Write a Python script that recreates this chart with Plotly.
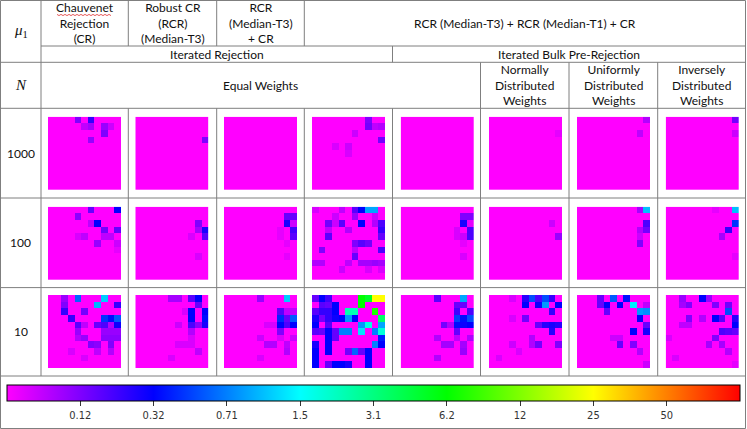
import plotly.graph_objects as go

W, H = 747, 429

# colour index scale: 0 = magenta ... 10 = red, ticks at 1..9
tick_vals = [1, 2, 3, 4, 5, 6, 7, 8, 9]
tick_text = ["0.12", "0.32", "0.71", "1.5", "3.1", "6.2", "12", "25", "50"]

row_labels = ["1000", "100", "10"]

# non-background cells of each 11x11 map: (row, col, value)
n1000_cr = [(0, 4, 1.0), (0, 6, 1.6), (1, 5, 0.5), (1, 6, 0.7), (1, 8, 0.8), (1, 9, 0.4),
            (2, 8, 1.0), (3, 6, 0.8)]
n1000_rcr = [(3, 10, 1.0)]
n1000_rcr_cr = []
n1000_full = [(0, 8, 1.0), (1, 8, 1.1), (1, 9, 0.5), (1, 10, 0.6), (2, 6, 0.4), (3, 10, 1.1),
              (4, 3, 0.3), (4, 5, 0.4), (5, 5, 0.3)]
n1000_bulk_eq = []
n1000_bulk_norm = [(2, 10, 0.2)]
n1000_bulk_unif = [(0, 10, 0.6), (2, 9, 0.5)]
n1000_bulk_inv = [(0, 10, 1.1), (2, 10, 0.4)]

n100_cr = [(0, 6, 1.2), (0, 10, 2.0), (1, 4, 0.9), (2, 6, 0.5), (2, 7, 2.0), (3, 8, 1.1),
           (3, 10, 1.2), (4, 4, 0.3), (4, 5, 0.5), (4, 8, 0.5), (4, 9, 0.5), (5, 7, 0.8),
           (5, 10, 0.4), (6, 10, 0.2)]
n100_rcr = [(2, 9, 1.0), (3, 9, 0.7), (3, 10, 1.8), (4, 8, 0.3), (4, 10, 1.3), (7, 9, 0.3)]
n100_rcr_cr = [(1, 9, 1.2), (1, 10, 1.2), (2, 9, 1.8), (2, 10, 0.4), (3, 8, 0.2), (3, 10, 1.5),
               (4, 8, 0.2), (4, 10, 1.3), (5, 9, 0.2), (7, 9, 0.2)]
n100_full = [(0, 0, 0.3), (0, 4, 0.5), (0, 6, 1.3), (0, 7, 2.0), (0, 8, 3.3), (0, 9, 3.3),
             (1, 3, 0.4), (1, 6, 0.8), (1, 9, 0.4), (2, 2, 1.1), (2, 3, 0.4), (2, 4, 1.3),
             (2, 7, 2.0), (2, 9, 0.6), (2, 10, 1.4), (3, 2, 0.5), (3, 5, 0.6), (3, 10, 1.6),
             (4, 2, 1.3), (4, 10, 1.2), (5, 6, 1.0), (5, 7, 1.3), (5, 8, 1.1), (6, 1, 1.0),
             (6, 6, 0.5), (6, 10, 1.4), (7, 6, 1.2), (8, 0, 0.6), (8, 1, 0.6), (8, 5, 0.5),
             (8, 7, 0.7), (8, 8, 0.7), (8, 9, 0.8), (8, 10, 0.7), (9, 4, 0.4), (9, 8, 0.3),
             (9, 10, 0.3)]
n100_bulk_eq = [(1, 9, 1.0), (1, 10, 1.0), (2, 9, 1.8), (2, 10, 0.2), (3, 8, 0.3), (3, 10, 1.4),
                (4, 8, 0.3), (4, 9, 0.4), (4, 10, 1.4), (5, 9, 0.2), (7, 9, 0.3)]
n100_bulk_norm = [(2, 9, 0.4), (4, 10, 0.8)]
n100_bulk_unif = [(0, 9, 0.7), (0, 10, 3.5), (2, 10, 1.4), (3, 9, 0.6), (3, 10, 1.1), (4, 9, 0.4),
                  (5, 9, 1.0)]
n100_bulk_inv = [(0, 7, 0.2), (0, 10, 3.5), (2, 10, 2.4), (3, 9, 1.6), (4, 8, 0.7), (7, 10, 0.2)]

n10_cr = [(0, 2, 0.8), (0, 4, 2.8), (0, 8, 3.6), (1, 2, 1.0), (1, 7, 3.4), (1, 10, 1.6),
          (2, 2, 1.6), (2, 5, 1.1), (3, 3, 1.6), (3, 8, 2.4), (3, 9, 2.1), (3, 10, 2.7),
          (4, 4, 1.3), (4, 5, 0.5), (4, 7, 1.2), (4, 8, 1.4), (4, 9, 0.6), (4, 10, 1.9),
          (5, 4, 0.8), (5, 8, 0.8), (5, 9, 0.8), (5, 10, 0.8), (6, 4, 0.6), (6, 5, 0.8),
          (6, 8, 0.9), (6, 9, 0.9), (6, 10, 0.9), (7, 6, 1.0), (7, 7, 0.9), (7, 9, 1.0),
          (8, 3, 0.3), (8, 7, 0.5), (8, 9, 0.6), (9, 5, 0.3)]
n10_rcr = [(0, 5, 0.7), (0, 6, 0.7), (0, 8, 1.3), (0, 9, 2.0), (1, 9, 1.2), (2, 7, 0.3),
           (2, 8, 2.0), (2, 10, 2.0), (3, 8, 2.0), (3, 10, 2.1), (4, 6, 0.4), (4, 8, 1.4),
           (4, 9, 0.9), (4, 10, 1.8), (5, 8, 0.6), (6, 8, 0.3), (7, 6, 0.3), (7, 7, 0.3),
           (7, 8, 0.3), (8, 9, 0.5), (9, 5, 0.3)]
n10_rcr_cr = [(0, 5, 0.8), (0, 9, 3.6), (2, 8, 1.3), (2, 9, 0.5), (2, 10, 0.5), (3, 8, 2.3),
              (3, 9, 1.2), (3, 10, 2.7), (4, 6, 0.3), (4, 7, 0.3), (4, 8, 2.0), (4, 9, 1.4),
              (4, 10, 2.0), (5, 8, 1.0), (6, 5, 0.4), (6, 8, 0.3), (6, 10, 0.4), (7, 6, 0.6),
              (7, 7, 0.6), (7, 9, 0.5), (8, 9, 0.6), (9, 5, 0.3)]
n10_full = [(0, 0, 1.2), (0, 1, 2.0), (0, 2, 1.5), (0, 7, 6.0), (0, 8, 5.7), (0, 9, 8.0),
            (0, 10, 8.0), (1, 1, 1.3), (1, 2, 1.2), (1, 3, 2.0), (1, 7, 6.0), (2, 0, 1.3),
            (2, 1, 1.6), (2, 2, 1.6), (2, 3, 2.0), (2, 5, 4.6), (2, 6, 4.6), (2, 9, 6.2),
            (3, 0, 1.8), (3, 1, 1.1), (3, 2, 1.6), (3, 3, 1.9), (3, 4, 2.0), (3, 5, 3.2),
            (3, 6, 2.0), (3, 10, 5.2), (4, 0, 2.0), (4, 2, 1.3), (4, 7, 3.2), (4, 8, 4.2),
            (4, 10, 3.3), (5, 0, 1.3), (5, 1, 1.2), (5, 2, 2.0), (5, 3, 1.2), (5, 4, 3.0),
            (5, 5, 3.0), (5, 7, 3.8), (5, 9, 3.0), (5, 10, 4.3), (6, 2, 2.0), (6, 3, 1.2),
            (6, 10, 2.2), (7, 0, 1.8), (7, 2, 2.0), (7, 9, 3.0), (7, 10, 2.0), (8, 0, 2.0),
            (8, 2, 2.0), (8, 5, 1.1), (8, 6, 2.8), (8, 7, 1.2), (8, 8, 2.0), (9, 0, 2.0),
            (9, 8, 2.0), (10, 0, 2.0), (10, 2, 1.2), (10, 3, 2.0), (10, 4, 2.0), (10, 5, 1.8),
            (10, 8, 2.0)]
n10_bulk_eq = [(0, 5, 1.3), (0, 9, 3.3), (1, 8, 1.2), (1, 9, 1.2), (2, 8, 1.5), (2, 10, 1.4),
               (3, 8, 2.5), (3, 9, 2.1), (3, 10, 2.6), (4, 6, 1.1), (4, 7, 0.6), (4, 8, 2.1),
               (4, 9, 1.9), (4, 10, 2.0), (5, 8, 1.2), (6, 5, 0.6), (6, 8, 0.5), (6, 10, 0.6),
               (7, 6, 0.7), (7, 7, 0.7), (7, 9, 0.7), (8, 9, 0.8), (9, 5, 0.6)]
n10_bulk_norm = [(0, 3, 0.3), (0, 5, 1.7), (0, 6, 2.6), (0, 7, 1.4), (0, 8, 2.6), (0, 9, 1.6),
                 (1, 5, 2.0), (1, 7, 1.9), (1, 8, 3.2), (1, 10, 2.0), (2, 9, 1.6), (3, 3, 0.3),
                 (3, 5, 1.1), (4, 7, 1.2), (4, 8, 1.7), (4, 9, 1.8), (4, 10, 1.7), (5, 9, 1.7),
                 (6, 6, 0.6), (7, 3, 0.4), (7, 6, 0.6), (7, 7, 1.1), (7, 10, 1.0), (8, 4, 0.3),
                 (9, 1, 0.3)]
n10_bulk_unif = [(0, 3, 1.2), (0, 5, 2.7), (0, 7, 2.1), (1, 3, 1.2), (1, 4, 2.0), (1, 6, 2.0),
                 (1, 8, 3.9), (1, 10, 0.5), (2, 4, 1.2), (2, 9, 3.2), (2, 10, 3.1), (3, 9, 2.0),
                 (4, 10, 1.2), (5, 8, 2.0), (5, 10, 1.8), (6, 5, 0.4), (6, 6, 0.4), (7, 6, 1.2),
                 (7, 8, 1.0), (8, 9, 0.6), (10, 10, 0.4)]
n10_bulk_inv = [(0, 2, 0.8), (0, 5, 2.0), (0, 6, 0.8), (1, 2, 0.7), (1, 3, 1.0), (1, 7, 1.0),
                (1, 9, 1.1), (2, 9, 2.6), (3, 3, 1.0), (3, 5, 0.6), (3, 7, 2.0), (3, 8, 1.3),
                (3, 10, 1.7), (4, 2, 0.5), (4, 3, 0.5), (4, 10, 2.0), (5, 8, 1.4), (5, 9, 1.3),
                (5, 10, 1.2), (6, 0, 0.3), (6, 7, 1.0), (7, 6, 0.7), (7, 8, 0.7), (8, 9, 0.6),
                (9, 1, 0.3), (10, 10, 0.2)]

panels = [
    [n1000_cr, n1000_rcr, n1000_rcr_cr, n1000_full, n1000_bulk_eq, n1000_bulk_norm, n1000_bulk_unif, n1000_bulk_inv],
    [n100_cr, n100_rcr, n100_rcr_cr, n100_full, n100_bulk_eq, n100_bulk_norm, n100_bulk_unif, n100_bulk_inv],
    [n10_cr, n10_rcr, n10_rcr_cr, n10_full, n10_bulk_eq, n10_bulk_norm, n10_bulk_unif, n10_bulk_inv],
]

GRID = 11


def fx(x):
    return x / W


def fy(y):
    return 1 - y / H


def to_grid(cells):
    z = [[0.0] * GRID for _ in range(GRID)]
    for r, c, v in cells:
        z[r][c] = v
    return z


# table geometry (pixels)
col_x = [0.5, 41, 128.3, 216.7, 304.3, 392.5, 480.5, 569, 657.7, 745.5]
row_y = [108.3, 198, 287.6, 376]
map_x0 = [48, 135.3, 224, 312, 400.7, 489, 577, 665.7]
map_y0 = [116.7, 206.7, 295]
map_size = 73.3

fig = go.Figure()
layout_axes = {}
k = 0
for i in range(3):
    for j in range(8):
        k += 1
        fig.add_trace(go.Heatmap(
            z=to_grid(panels[i][j]),
            coloraxis="coloraxis",
            xaxis="x" if k == 1 else f"x{k}",
            yaxis="y" if k == 1 else f"y{k}",
            hoverinfo="skip",
        ))
        sx = "" if k == 1 else str(k)
        layout_axes[f"xaxis{sx}"] = dict(
            domain=[fx(map_x0[j]), fx(map_x0[j] + map_size)],
            range=[-0.5, GRID - 0.5], visible=False, anchor=f"y{sx}", fixedrange=True)
        layout_axes[f"yaxis{sx}"] = dict(
            domain=[fy(map_y0[i] + map_size), fy(map_y0[i])],
            range=[GRID - 0.5, -0.5], visible=False, anchor=f"x{sx}", fixedrange=True)

fig.update_layout(**layout_axes)

# table grid lines
line_col = "#7f7f7f"
segs = [
    (col_x[1], 46, col_x[-1], 46),
    (0, 62.3, col_x[-1], 62.3),
] + [(0, y, col_x[-1], y) for y in row_y]
segs.append((col_x[1], 0, col_x[1], row_y[-1]))
for c in (2, 3, 4):
    segs.append((col_x[c], 0, col_x[c], 46))
    segs.append((col_x[c], row_y[0], col_x[c], row_y[-1]))
segs.append((col_x[5], 46, col_x[5], 62.3))
segs.append((col_x[5], row_y[0], col_x[5], row_y[-1]))
for c in (6, 7, 8):
    segs.append((col_x[c], 62.3, col_x[c], row_y[-1]))

shapes = [dict(type="rect", xref="paper", yref="paper", x0=fx(0.5), x1=fx(745.5),
               y0=fy(428.5), y1=fy(0.5), line=dict(color=line_col, width=1))]
for x0, y0, x1, y1 in segs:
    shapes.append(dict(type="line", xref="paper", yref="paper",
                       x0=fx(x0), y0=fy(y0), x1=fx(x1), y1=fy(y1),
                       line=dict(color=line_col, width=1)))

# red spell-check squiggle under "Chauvenet"
pts = []
xx = 57.0
n = 0
while xx <= 112:
    pts.append((xx, 14.4 if n % 2 == 0 else 15.6))
    xx += 2.0
    n += 1
path = "M " + " L ".join(f"{fx(a):.5f},{fy(b):.5f}" for a, b in pts)
shapes.append(dict(type="path", xref="paper", yref="paper", path=path,
                   line=dict(color="#e03030", width=0.8)))

fig.update_layout(shapes=shapes)

txt_font = dict(family="Lato, Open Sans, sans-serif", size=12, color="#111111")
math_font = dict(family="Liberation Serif, DejaVu Serif, serif", size=15, color="#111111")


def cell_text(x, y, text, font=txt_font):
    fig.add_annotation(x=fx(x), y=fy(y), xref="paper", yref="paper", text=text,
                       showarrow=False, font=font, xanchor="center", yanchor="middle",
                       align="center")


cell_text(20.7, 31, "<i>μ</i><sub>1</sub>", math_font)
cell_text(20.7, 85, "<i>N</i>", math_font)
cell_text(84.7, 23.5, "Chauvenet<br>Rejection<br>(CR)")
cell_text(172.5, 23.5, "Robust CR<br>(RCR)<br>(Median-T3)")
cell_text(260.5, 23.5, "RCR<br>(Median-T3)<br>+ CR")
cell_text(524.9, 23.5, "RCR (Median-T3) + RCR (Median-T1) + CR")
cell_text(216.7, 54.3, "Iterated Rejection")
cell_text(569, 54.3, "Iterated Bulk Pre-Rejection")
cell_text(260.7, 85.5, "Equal Weights")
cell_text(524.7, 85.5, "Normally<br>Distributed<br>Weights")
cell_text(613.3, 85.5, "Uniformly<br>Distributed<br>Weights")
cell_text(701.6, 85.5, "Inversely<br>Distributed<br>Weights")
for i, lab in enumerate(row_labels):
    cell_text(20.7, (row_y[i] + row_y[i + 1]) / 2, lab)

fig.update_layout(
    width=W, height=H,
    margin=dict(l=0, r=0, t=0, b=0),
    paper_bgcolor="white", plot_bgcolor="white",
    showlegend=False,
    coloraxis=dict(
        cmin=0, cmax=10,
        colorscale=[[0, "#ff00ff"], [0.2, "#0000ff"], [0.4, "#00ffff"],
                    [0.6, "#00ff00"], [0.8, "#ffff00"], [1, "#ff0000"]],
        colorbar=dict(
            orientation="h",
            x=fx(373.5), xanchor="center",
            y=fy(385), yanchor="top", yref="paper",
            len=733 / W, lenmode="fraction",
            thickness=16, thicknessmode="pixels",
            xpad=0, ypad=0,
            outlinecolor="black", outlinewidth=1,
            tickmode="array", tickvals=tick_vals, ticktext=tick_text,
            ticks="outside", ticklen=5, tickcolor="#333333",
            tickfont=dict(family="Liberation Sans Narrow, DejaVu Sans Condensed, sans-serif",
                          size=11, color="#333333"),
        ),
    ),
)

fig.write_html("out.html", config={"displayModeBar": False},
               post_script="document.body.style.margin='0';")
